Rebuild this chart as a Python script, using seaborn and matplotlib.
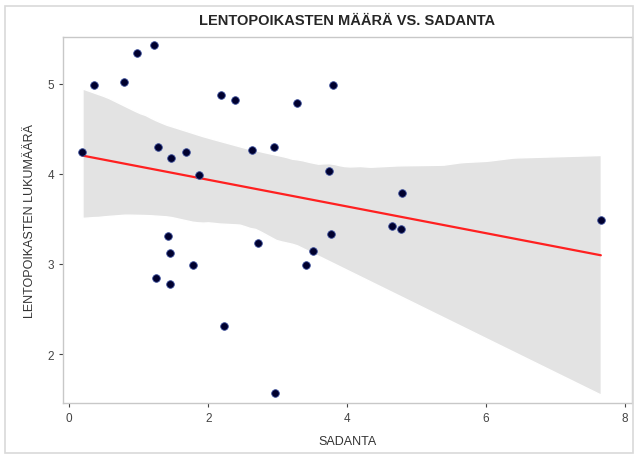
import numpy as np
import pandas as pd
import matplotlib.pyplot as plt
import seaborn as sb
from matplotlib.patches import Rectangle

sb.set_style('white')
plt.rcParams['font.family'] = ['Liberation Sans', 'DejaVu Sans']

# sadanta ja lentopoikasten lukumäärä
sadanta = [0.19, 0.35, 0.79, 0.98, 1.22, 1.27, 1.47, 1.68, 1.86, 2.19, 2.39,
           2.63, 2.94, 3.28, 3.80, 3.74, 1.42, 1.45, 1.25, 1.45, 1.78, 2.22,
           2.72, 2.96, 3.40, 3.51, 3.76, 4.79, 4.65, 4.78, 7.65]
poikaset = [4.24, 4.99, 5.02, 5.34, 5.43, 4.30, 4.17, 4.24, 3.99, 4.88, 4.82,
            4.26, 4.30, 4.79, 4.99, 4.03, 3.31, 3.12, 2.84, 2.78, 2.99, 2.31,
            3.23, 1.57, 2.99, 3.14, 3.33, 3.79, 3.42, 3.39, 3.49]
x_ticks = [0, 2, 4, 6, 8]
y_ticks = [2, 3, 4, 5]

df = pd.DataFrame({'SADANTA': sadanta, 'LUKUMAARA': poikaset})

fig = plt.figure(figsize=(6.34, 4.56), dpi=100)
ax = fig.add_axes([0.0994, 0.114, 0.8976, 0.803])
# kehys koko kuvan ympärille
fig.patches.append(Rectangle((0.008, 0.005), 0.99, 0.98, transform=fig.transFigure,
                             fill=False, edgecolor='#d9d9d9', linewidth=1.2))

sb.regplot(data=df, x='SADANTA', y='LUKUMAARA', ax=ax, ci=99, seed=3,
           scatter_kws={'s': 30, 'color': '#00002e', 'edgecolors': '#3a4d9a',
                        'linewidths': 0.6, 'alpha': 1, 'zorder': 3},
           line_kws={'color': '#ff2020', 'linewidth': 1.6})
for c in ax.collections:
    if c.__class__.__name__ in ('FillBetweenPolyCollection', 'PolyCollection'):
        c.set_facecolor('#e3e3e3')
        c.set_alpha(1)

ax.set_xlim(-0.09, 8.10)
ax.set_ylim(1.456, 5.52)
ax.set_xticks(x_ticks)
ax.set_yticks(y_ticks)
ax.tick_params(axis='both', colors='#444444', labelsize=8.5, length=3, width=0.8,
               direction='out', bottom=True, left=True)
for s in ax.spines.values():
    s.set_color('#c8c8c8')
    s.set_linewidth(1)

ax.set_title('LENTOPOIKASTEN MÄÄRÄ VS. SADANTA', fontsize=10.5, fontweight='bold', pad=9)
ax.set_xlabel('SADANTA', fontsize=9, color='#333333', labelpad=8)
ax.set_ylabel('LENTOPOIKASTEN LUKUMÄÄRÄ', fontsize=9, color='#333333', labelpad=8)

plt.savefig('out.png', dpi=100)
